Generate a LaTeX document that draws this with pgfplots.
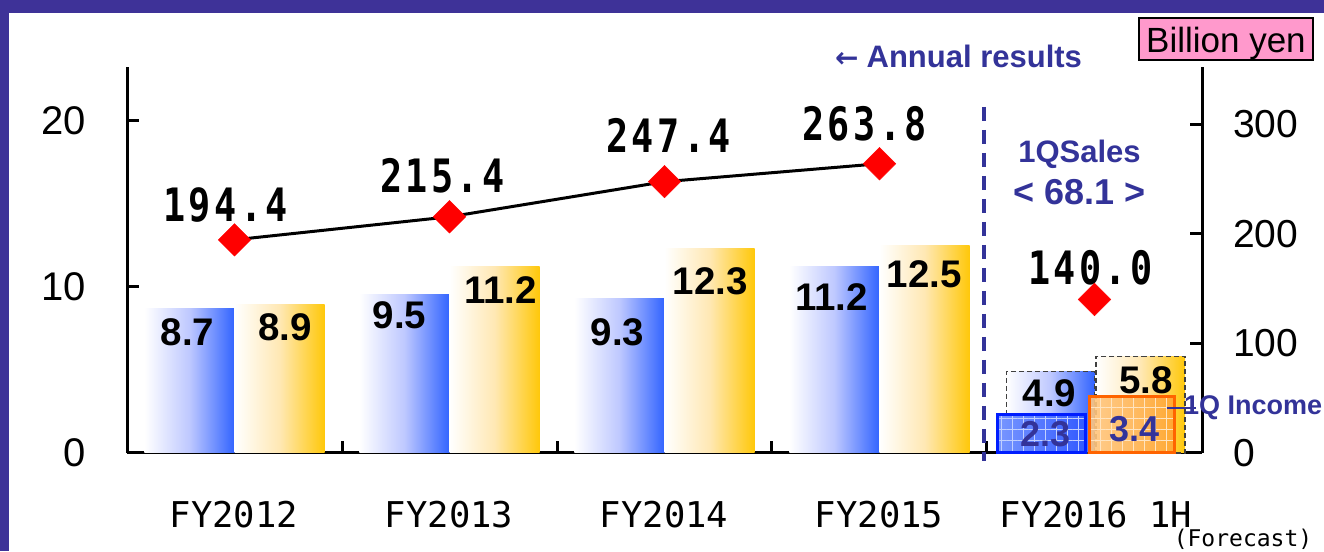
\documentclass[border=0pt]{standalone}
\usepackage{fontspec}
\setmainfont{Liberation Sans}
\newfontfamily\djv{DejaVu Sans}
\newfontfamily\catfont{DejaVu Sans Mono}
\newfontfamily\linefont{DejaVu Sans Mono}[FakeStretch=0.8]
\usepackage{pgfplots}
\pgfplotsset{compat=1.18}
\usetikzlibrary{patterns.meta}
\definecolor{framec}{RGB}{62,50,152}
\definecolor{txtblue}{RGB}{51,51,153}
\definecolor{barblue}{RGB}{50,100,255}
\definecolor{midblue}{RGB}{190,200,255}
\definecolor{baryel}{RGB}{255,200,10}
\definecolor{midyel}{RGB}{255,232,180}
\definecolor{qblueL}{RGB}{120,150,255}
\definecolor{qblueR}{RGB}{50,90,255}
\definecolor{qblueB}{RGB}{0,30,255}
\definecolor{qorL}{RGB}{255,200,130}
\definecolor{qorR}{RGB}{255,165,50}
\definecolor{qorB}{RGB}{255,100,0}
\definecolor{pinkbox}{RGB}{255,153,204}
\newcommand\fs[1]{\fontsize{#1}{#1}\selectfont}
\newcommand\ks{\kern3.5pt}
\pgfplotsset{
  bluebar/.style={ybar, bar width=90pt, bar shift=-45pt, draw=none,
    left color=white, right color=barblue, middle color=midblue},
  yelbar/.style={ybar, bar width=90pt, bar shift=45pt, draw=none,
    left color=white, right color=baryel, middle color=midyel},
  redmark/.style={mark=square*, mark size=11.5pt,
    mark options={rotate=45, fill=red, draw=red, line width=0.4pt, solid}},
}

\begin{document}
\begin{tikzpicture}[x=1pt,y=1pt]
\path[use as bounding box, fill=white] (0,0) rectangle (1324,551);
\fill[framec] (0,538) rectangle (1324,551);
\fill[framec] (0,0) rectangle (9,551);

% ---------- left axis: bars ----------
\begin{axis}[
  at={(127pt,98pt)}, anchor=south west,
  scale only axis, width=1075pt, height=386pt,
  xmin=-0.5, xmax=4.5, ymin=0, ymax=23.2,
  axis y line*=left, axis x line*=bottom,
  axis line style={line width=3pt, black},
  xtick={0.5,1.5,2.5,3.5}, xticklabels={},
  ytick={0,10,20},
  tick align=inside, major tick length=12pt,
  tick style={line width=3pt, black},
  /pgf/number format/assume math mode=true,
  yticklabel style={font=\fs{40}, anchor=east, inner sep=0pt, xshift=-41pt},
  clip=false,
]
% annual results (one plot per bar so each bar gets its own gradient)
\addplot[bluebar] coordinates {(0,8.7)};
\addplot[bluebar] coordinates {(1,9.5)};
\addplot[bluebar] coordinates {(2,9.3)};
\addplot[bluebar] coordinates {(3,11.2)};
\addplot[yelbar] coordinates {(0,8.9)};
\addplot[yelbar] coordinates {(1,11.2)};
\addplot[yelbar] coordinates {(2,12.3)};
\addplot[yelbar] coordinates {(3,12.5)};
% FY2016 1H forecast (dashed)
\addplot[bluebar, bar width=88pt, bar shift=-44pt, draw=black!75, line width=1.3pt,
  dash pattern=on 5pt off 3pt] coordinates {(4,4.9)};
\addplot[yelbar, bar width=89pt, bar shift=46pt, draw=black!75, line width=1.3pt,
  dash pattern=on 5pt off 3pt] coordinates {(4,5.8)};

\begin{scope}[every node/.style={font=\bfseries\fs{38.5}, inner sep=0pt}]
\node at (axis cs:-0.219,7.27) {8.7};
\node at (axis cs:0.235,7.57) {8.9};
\node at (axis cs:0.767,8.26) {9.5};
\node at (axis cs:1.237,9.80) {11.2};
\node at (axis cs:1.781,7.27) {9.3};
\node at (axis cs:2.212,10.34) {12.3};
\node at (axis cs:2.777,9.38) {11.2};
\node at (axis cs:3.209,10.76) {12.5};
\node at (axis cs:3.791,3.61) {4.9};
\node at (axis cs:4.240,4.39) {5.8};
\end{scope}

% 1Q results
\addplot[ybar, bar width=88pt, bar shift=-53pt, draw=none,
  preaction={left color=qblueL, right color=qblueR},
  pattern={Hatch[angle=0,distance=11pt,line width=1pt]}, pattern color=qblueL!45!white,
  postaction={draw=qblueB, line width=3pt}]
  coordinates {(4,2.3)};
\addplot[ybar, bar width=85pt, bar shift=37.5pt, draw=none,
  preaction={left color=qorL, right color=qorR, fill opacity=0.9},
  pattern={Hatch[angle=0,distance=11pt,line width=1pt]}, pattern color=qorL!50!white,
  postaction={draw=qorB, line width=3pt}]
  coordinates {(4,3.4)};
\begin{scope}[every node/.style={font=\bfseries\fs{36}, inner sep=0pt, text=txtblue}]
\node at (axis cs:3.772,1.14) {2.3};
\node at (axis cs:4.186,1.44) {3.4};
\end{scope}
\end{axis}

% ---------- right axis: sales line ----------
\begin{axis}[
  at={(127pt,98pt)}, anchor=south west,
  scale only axis, width=1075pt, height=386pt,
  xmin=-0.5, xmax=4.5, ymin=0, ymax=352,
  axis y line*=right, axis x line=none,
  axis line style={line width=3pt, black},
  ytick={0,100,200,300},
  tick align=inside, major tick length=12pt,
  tick style={line width=3pt, black},
  /pgf/number format/assume math mode=true,
  yticklabel style={font=\fs{39}, anchor=west, inner sep=0pt, xshift=31pt},
  clip=false,
]
\addplot[black, line width=3pt, redmark]
  coordinates {(0,194.4) (1,215.4) (2,247.4) (3,263.8)};
\addplot[only marks, redmark]
  coordinates {(4,140.0)};
\begin{scope}[every node/.style={font=\linefont\bfseries\fs{46}, inner sep=0pt}]
\node at (axis cs:-0.042,226.2) {1\ks9\ks4\ks.\ks4};
\node at (axis cs:0.967,252.6) {2\ks1\ks5\ks.\ks4};
\node at (axis cs:2.019,290.0) {2\ks4\ks7\ks.\ks4};
\node at (axis cs:2.930,300.5) {2\ks6\ks3\ks.\ks8};
\node at (axis cs:3.981,168.7) {1\ks4\ks0\ks.\ks0};
\end{scope}
\end{axis}

% ---------- annotations ----------
\draw[txtblue, line width=4pt, dash pattern=on 14pt off 9pt] (984,444) -- (984,90);

\begin{scope}[every node/.style={font=\catfont\fs{35.5}, inner sep=0pt}]
\node at (234,36) {FY2012};
\node at (449,36) {FY2013};
\node at (664,36) {FY2014};
\node at (879,36) {FY2015};
\node at (1096,36) {FY2016 1H};
\end{scope}
\node[font=\catfont\fs{23}, inner sep=0pt] at (1243,12) {(Forecast)};

\node[anchor=base west, inner sep=0pt, text=txtblue, font=\bfseries\fs{31}]
  at (835,483) {{\djv\fs{28}←}\hspace{8pt}Annual results};
\node[anchor=base, inner sep=0pt, text=txtblue, font=\bfseries\fs{31}] at (1079.5,388) {1QSales};
\node[anchor=base, inner sep=0pt, text=txtblue, font=\bfseries\fs{36}] at (1079.5,346) {< 68.1 >};

\draw[txtblue, line width=2.5pt] (1167,143) -- (1196,143);
\node[anchor=base west, inner sep=0pt, text=txtblue, font=\bfseries\fs{27}] at (1184,136) {1Q Income};

\draw[fill=pinkbox, line width=1.2pt] (1139,491) rectangle (1313,533);
\node[anchor=base west, inner sep=0pt, font=\fs{35}] at (1146,498) {Billion yen};
\end{tikzpicture}
\end{document}
